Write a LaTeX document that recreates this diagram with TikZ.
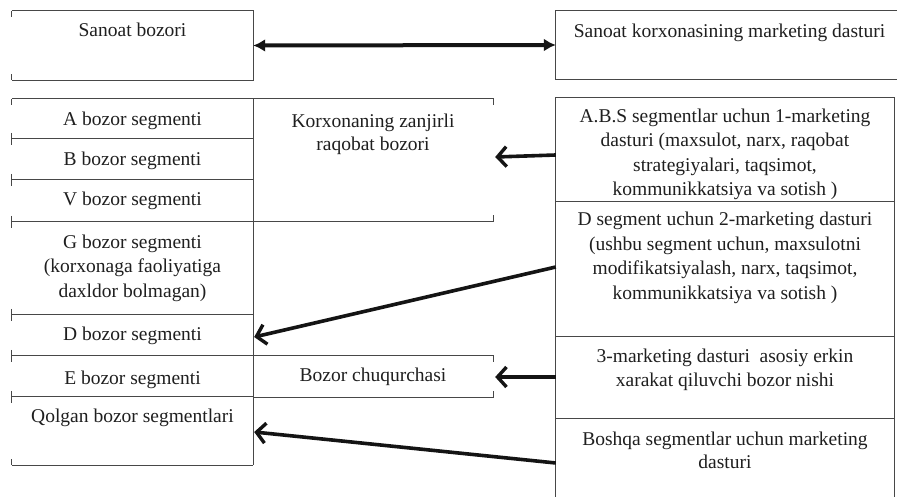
\documentclass[tikz,border=0pt]{standalone}
\usepackage{fontspec}
\setmainfont{Liberation Serif}
\usetikzlibrary{arrows.meta,calc}

\begin{document}
\begin{tikzpicture}[x=1pt,y=-1pt,
  cell/.style={rectangle,inner sep=0pt,draw=none},
  txt/.style={inner sep=0pt,align=center,anchor=north,text=black!88,
    font=\fontsize{19.5}{24.5}\selectfont},
  txtnarrow/.style={txt,font=\fontsize{19.5}{23.5}\selectfont},
  boxline/.style={draw=black!72,line width=0.9pt},
  conn/.style={draw=black!92,line width=3.6pt,
    -{Straight Barb[length=9pt,width=20pt,line width=3.4pt]}},
  twoway/.style={draw=black!92,line width=4pt,
    {Latex[length=12pt,width=13pt]}-{Latex[length=12pt,width=13pt]}}
]
\path[fill=white,use as bounding box] (0,0) rectangle (897,497);

% ---- box frames (invisible nodes carry the geometry) ----
\node[cell,minimum width=241pt,minimum height=69pt] (sb)   at (132.5,45.5) {};
\node[cell,minimum width=341pt,minimum height=68pt] (skmd) at (726.5,45) {};

\node[cell,minimum width=241pt,minimum height=40pt] (cA) at (132.5,119) {};
\node[cell,minimum width=241pt,minimum height=41pt] (cB) at (132.5,159.5) {};
\node[cell,minimum width=241pt,minimum height=42pt] (cV) at (132.5,201) {};
\node[cell,minimum width=241pt,minimum height=93pt] (cG) at (132.5,268.5) {};
\node[cell,minimum width=241pt,minimum height=41pt] (cD) at (132.5,335.5) {};
\node[cell,minimum width=241pt,minimum height=41pt] (cE) at (132.5,376.5) {};
\node[cell,minimum width=241pt,minimum height=68pt] (cQ) at (132.5,431) {};

\node[cell,minimum width=240pt,minimum height=122pt] (kzr) at (373,160) {};
\node[cell,minimum width=240pt,minimum height=41pt]  (bch) at (373,376.5) {};

\node[cell,minimum width=338pt,minimum height=104pt] (abs)  at (725,150) {};
\node[cell,minimum width=338pt,minimum height=135pt] (dseg) at (725,269.5) {};
\node[cell,minimum width=338pt,minimum height=82pt]  (m3)   at (725,378) {};
\node[cell,minimum width=338pt,minimum height=78pt]  (bo)   at (725,458) {};

% ---- texts ----
\node[txt] (sb-t)   at ($(sb.north)+(0,11.5)$)   {Sanoat bozori};
\node[txt] (skmd-t) at ($(skmd.north)+(3,12.5)$) {Sanoat korxonasining marketing dasturi};

\node[txt] (cA-t) at ($(cA.north)+(0,12.5)$) {A bozor segmenti};
\node[txt] (cB-t) at ($(cB.north)+(0,12.5)$) {B bozor segmenti};
\node[txt] (cV-t) at ($(cV.north)+(0,11.5)$) {V bozor segmenti};
\node[txt] (cG-t) at ($(cG.north)+(0,12.5)$) {G bozor segmenti\\(korxonaga faoliyatiga\\daxldor bolmagan)};
\node[txt] (cD-t) at ($(cD.north)+(0,11.5)$) {D bozor segmenti};
\node[txt] (cE-t) at ($(cE.north)+(0,14.5)$) {E bozor segmenti};
\node[txt] (cQ-t) at ($(cQ.north)+(0,11.5)$) {Qolgan bozor segmentlari};

\node[txtnarrow] (kzr-t) at ($(kzr.north)+(0,14.5)$) {Korxonaning zanjirli\\raqobat bozori};
\node[txt] (bch-t) at ($(bch.north)+(0,11.5)$) {Bozor chuqurchasi};

\node[txt] (abs-t)  at ($(abs.north)+(0,10.5)$)
  {A.B.S segmentlar uchun 1-marketing\\dasturi (maxsulot, narx, raqobat\\strategiyalari, taqsimot,\\kommunikkatsiya va sotish )};
\node[txt] (dseg-t) at ($(dseg.north)+(0,10)$)
  {D segment uchun 2-marketing dasturi\\(ushbu segment uchun, maxsulotni\\modifikatsiyalash, narx, taqsimot,\\kommunikkatsiya va sotish )};
\node[txt] (m3-t) at ($(m3.north)+(0,11.5)$)
  {3-marketing dasturi\ \ asosiy erkin\\xarakat qiluvchi bozor nishi};
\node[txtnarrow] (bo-t) at ($(bo.north)+(0,12.5)$)
  {Boshqa segmentlar uchun marketing\\dasturi};

% ---- frames ----
% upper pair
\draw[boxline] (sb.north west) -- (sb.north east) -- (sb.south east) -- (sb.south west);
\draw[boxline] (sb.north west) -- ++(0,6);
\draw[boxline] (sb.south west) -- ++(0,-6);
\draw[boxline] (skmd.north east) -- (skmd.north west) -- (skmd.south west) -- (skmd.south east);

% left column of segments
\foreach \c in {cA,cB,cV,cG,cD,cE,cQ}
  \draw[boxline] (\c.north west) -- (\c.north east);
\draw[boxline] (cQ.south west) -- (cQ.south east);
\draw[boxline] (cA.north east) -- (cQ.south east);
\foreach \c in {cB,cV,cG,cD,cE,cQ}
  \draw[boxline] ($(\c.north west)+(0,-6)$) -- ++(0,12);
\draw[boxline] (cA.north west) -- ++(0,6);
\draw[boxline] (cQ.south west) -- ++(0,-6);

% middle boxes
\draw[boxline] (kzr.north west) -- (kzr.north east) -- ++(0,6);
\draw[boxline] (kzr.south west) -- (kzr.south east) -- ++(0,-6);
\draw[boxline] (bch.north west) -- (bch.north east) -- ++(0,6);
\draw[boxline] (bch.south west) -- (bch.south east) -- ++(0,-6);

% right column of programmes
\draw[boxline] (bo.south west) -- (abs.north west) -- (abs.north east) -- (bo.south east);
\foreach \c in {dseg,m3,bo}
  \draw[boxline] (\c.north west) -- (\c.north east);

% ---- connectors ----
\draw[twoway] (sb.east) -- (skmd.west);
\draw[conn] ($(abs.west)+(0,5)$)     -- ($(kzr.east)+(2,-3)$);
\draw[conn] ($(dseg.west)+(0,-2.5)$) -- ($(cD.east)+(1,1.5)$);
\draw[conn] ($(m3.west)+(0,-1)$)     -- ($(bch.east)+(2,0.5)$);
\draw[conn] ($(bo.west)+(0,5)$)      -- ($(cQ.east)+(1,1)$);
\end{tikzpicture}
\end{document}
